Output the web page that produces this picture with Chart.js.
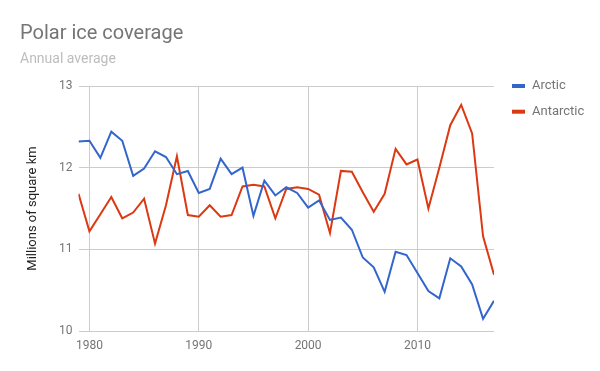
<!DOCTYPE html>
<html>
<head>
<meta charset="utf-8">
<script src="https://cdn.jsdelivr.net/npm/chart.js@4"></script>
<style>
  html, body { margin: 0; padding: 0; background: #fff; }
  #wrap { width: 600px; height: 371px; }
</style>
</head>
<body>
<div id="wrap"><canvas id="grafica" width="600" height="371"></canvas></div>
<script>
// datos
const years = [1979, 1980, 1981, 1982, 1983, 1984, 1985, 1986, 1987, 1988, 1989,
  1990, 1991, 1992, 1993, 1994, 1995, 1996, 1997, 1998, 1999,
  2000, 2001, 2002, 2003, 2004, 2005, 2006, 2007, 2008, 2009,
  2010, 2011, 2012, 2013, 2014, 2015, 2016, 2017];
const arctic = [12.32, 12.33, 12.12, 12.44, 12.33, 11.90, 11.99, 12.20, 12.13, 11.92, 11.96,
  11.69, 11.74, 12.11, 11.92, 12.00, 11.41, 11.84, 11.66, 11.76, 11.69,
  11.51, 11.60, 11.36, 11.39, 11.24, 10.90, 10.78, 10.48, 10.97, 10.93,
  10.71, 10.49, 10.40, 10.89, 10.79, 10.57, 10.15, 10.37];
const antarctic = [11.68, 11.22, 11.43, 11.64, 11.38, 11.45, 11.62, 11.07, 11.54, 12.14, 11.42,
  11.40, 11.54, 11.40, 11.42, 11.77, 11.79, 11.77, 11.38, 11.74, 11.76,
  11.74, 11.67, 11.20, 11.96, 11.95, 11.70, 11.46, 11.68, 12.23, 12.04,
  12.10, 11.50, 12.00, 12.52, 12.77, 12.42, 11.16, 10.69];
const xTicks = [1980, 1990, 2000, 2010];
const yTicks = [10, 11, 12, 13];

const seriesNames = ["Arctic", "Antarctic"];
const colores = ["#3366cc", "#dc3912"];
const fuente = "Roboto, 'Noto Sans', sans-serif";

// titulos, leyenda y titulo del eje
const textos = {
  id: "textos",
  afterDraw(chart) {
    const ctx = chart.ctx;
    const area = chart.chartArea;
    ctx.save();
    ctx.textBaseline = "alphabetic";
    ctx.textAlign = "left";
    ctx.fillStyle = "#757575";
    ctx.font = "20px " + fuente;
    ctx.fillText("Polar ice coverage", 20, 39);
    ctx.fillStyle = "#bdbdbd";
    ctx.font = "14px " + fuente;
    ctx.fillText("Annual average", 20, 63);

    // leyenda
    ctx.font = "13px " + fuente;
    ctx.textBaseline = "middle";
    for (let i = 0; i < seriesNames.length; i++) {
      const y = 86 + i * 25.7;
      ctx.fillStyle = colores[i];
      ctx.fillRect(512, y - 2, 13, 4);
      ctx.fillStyle = "#757575";
      ctx.fillText(seriesNames[i], 532, y);
    }

    // titulo eje y
    ctx.translate(33, (area.top + area.bottom) / 2);
    ctx.rotate(-Math.PI / 2);
    ctx.textAlign = "center";
    ctx.fillStyle = "#222222";
    ctx.font = "13px " + fuente;
    ctx.fillText("Millions of square km", 0, 0);
    ctx.restore();
  }
};

let chartConfig = {
  type: "line",
  data: {
    labels: years,
    datasets: [
      {
        label: seriesNames[0],
        data: years.map((y, i) => ({ x: y, y: arctic[i] })),
        borderColor: colores[0],
        backgroundColor: colores[0],
        borderWidth: 2,
        pointRadius: 0,
        tension: 0
      },
      {
        label: seriesNames[1],
        data: years.map((y, i) => ({ x: y, y: antarctic[i] })),
        borderColor: colores[1],
        backgroundColor: colores[1],
        borderWidth: 2,
        pointRadius: 0,
        tension: 0
      }
    ]
  },
  options: {
    responsive: false,
    animation: false,
    layout: { padding: { left: 0, right: 106, top: 86, bottom: 0 } },
    plugins: {
      legend: { display: false },
      title: { display: false },
      tooltip: { enabled: false }
    },
    scales: {
      x: {
        type: "linear",
        min: 1979,
        max: 2017,
        afterBuildTicks: (axis) => { axis.ticks = xTicks.map(v => ({ value: v })); },
        afterFit: (axis) => { axis.height = 40; },
        grid: { color: "#cccccc", drawTicks: false, lineWidth: 1 },
        border: { display: false },
        ticks: {
          color: "#757575",
          font: { family: fuente, size: 12 },
          padding: 8,
          maxRotation: 0,
          callback: (v) => String(v)
        }
      },
      y: {
        min: 10,
        max: 13,
        afterBuildTicks: (axis) => { axis.ticks = yTicks.map(v => ({ value: v })); },
        afterFit: (axis) => { axis.width = 78.5; },
        grid: { color: "#cccccc", drawTicks: false, lineWidth: 1 },
        border: { display: false },
        ticks: {
          color: "#757575",
          font: { family: fuente, size: 12 },
          padding: 6
        }
      }
    }
  },
  plugins: [textos]
};

let chart = new Chart(document.getElementById("grafica").getContext("2d"), chartConfig);
</script>
</body>
</html>
